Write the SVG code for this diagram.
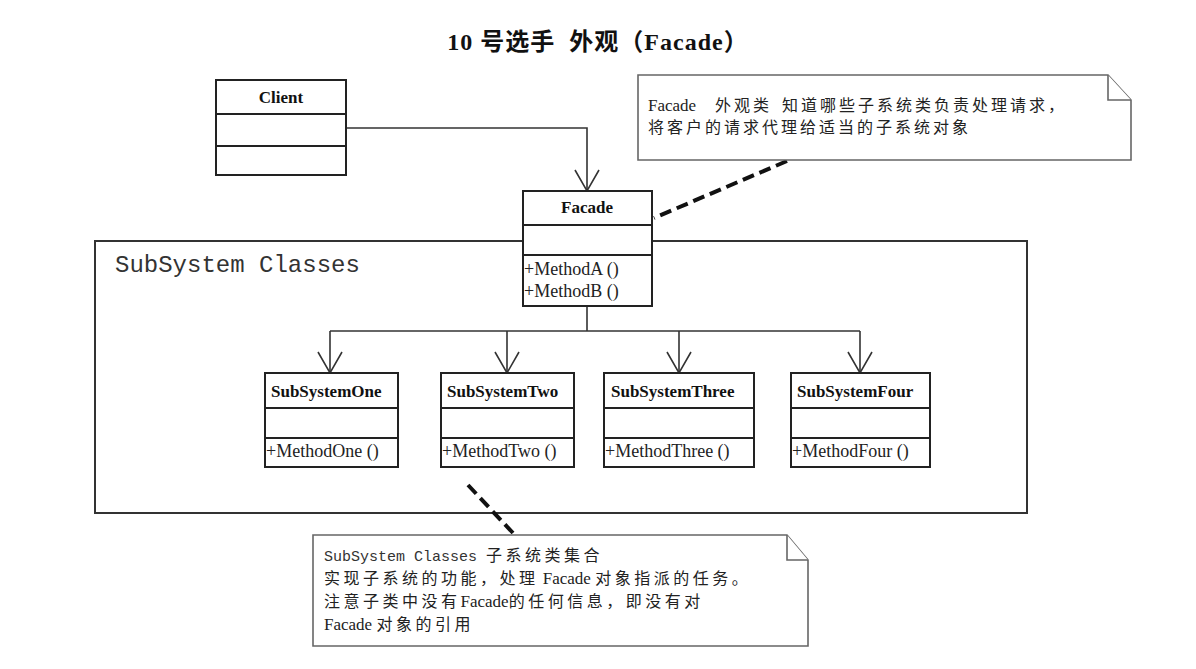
<svg xmlns="http://www.w3.org/2000/svg" width="1196" height="669" viewBox="0 0 1196 669">
<defs>
<style>
.box{fill:#fff;stroke:#222;stroke-width:2}
.div{stroke:#222;stroke-width:1.8}
.frame{fill:none;stroke:#333;stroke-width:2}
.line{fill:none;stroke:#333;stroke-width:1.6}
.dash{fill:none;stroke:#111;stroke-width:4;stroke-dasharray:12 6}
.note{fill:#fff;stroke:#666;stroke-width:1.6}
.name{font-family:"Liberation Serif","Noto Sans CJK SC",serif;font-weight:bold;font-size:17px;fill:#111}
.meth{font-family:"Liberation Serif","Noto Sans CJK SC",serif;font-size:18px;fill:#222}
.mono{font-family:"Liberation Mono","Noto Sans CJK SC",monospace;fill:#333}
.ntxt{font-family:"Liberation Serif","Noto Sans CJK SC",serif;font-size:17px;fill:#222}
.cjk{font-family:"Noto Sans CJK SC",sans-serif;font-size:16px;letter-spacing:3px}
.cjk2{font-family:"Noto Sans CJK SC",sans-serif;font-size:16px;letter-spacing:3.5px}
.title{font-family:"Liberation Serif","Noto Sans CJK SC",serif;font-weight:bold;font-size:24px;letter-spacing:1px;fill:#111;white-space:pre}
</style>
</defs>
<rect width="1196" height="669" fill="#fff"/>
<text class="title" x="598" y="50" text-anchor="middle">10 号选手  外观（Facade）</text>

<g id="subsystem-frame">
<rect class="frame" x="95" y="241" width="932" height="272"/>
<text class="mono" x="115" y="272" font-size="24">SubSystem Classes</text>
</g>

<g id="connectors">
<polyline class="line" points="346,128 587,128 587,191"/>
<polyline class="line" points="575,170 587,191 599,170"/>
<line class="line" x1="587" y1="306" x2="587" y2="331"/>
<line class="line" x1="330" y1="331" x2="860" y2="331"/>
<line class="line" x1="330" y1="331" x2="330" y2="373"/>
<line class="line" x1="507" y1="331" x2="507" y2="373"/>
<line class="line" x1="679" y1="331" x2="679" y2="373"/>
<line class="line" x1="860" y1="331" x2="860" y2="373"/>
<polyline class="line" points="318,352 330,373 342,352"/>
<polyline class="line" points="495,352 507,373 519,352"/>
<polyline class="line" points="667,352 679,373 691,352"/>
<polyline class="line" points="848,352 860,373 872,352"/>
<line class="dash" x1="787" y1="161" x2="654" y2="218"/>
<line class="dash" x1="468" y1="485" x2="513" y2="533"/>
</g>

<g id="client">
<rect class="box" x="216" y="80" width="130" height="95"/>
<line class="div" x1="216" y1="114" x2="346" y2="114"/>
<line class="div" x1="216" y1="146" x2="346" y2="146"/>
<text class="name" x="281" y="103" text-anchor="middle">Client</text>
</g>

<g id="facade">
<rect class="box" x="523" y="191" width="129" height="115"/>
<line class="div" x1="523" y1="225" x2="652" y2="225"/>
<line class="div" x1="523" y1="255" x2="652" y2="255"/>
<text class="name" x="587" y="213" text-anchor="middle">Facade</text>
<text class="meth" x="524" y="275">+MethodA ()</text>
<text class="meth" x="524" y="297">+MethodB ()</text>
</g>

<g id="subsystem-one">
<rect class="box" x="265" y="373" width="133" height="94"/>
<line class="div" x1="265" y1="408" x2="398" y2="408"/>
<line class="div" x1="265" y1="438" x2="398" y2="438"/>
<text class="name" x="271" y="397">SubSystemOne</text>
<text class="meth" x="266" y="457">+MethodOne ()</text>
</g>

<g id="subsystem-two">
<rect class="box" x="441" y="373" width="133" height="94"/>
<line class="div" x1="441" y1="408" x2="574" y2="408"/>
<line class="div" x1="441" y1="438" x2="574" y2="438"/>
<text class="name" x="447" y="397">SubSystemTwo</text>
<text class="meth" x="442" y="457">+MethodTwo ()</text>
</g>

<g id="subsystem-three">
<rect class="box" x="604" y="373" width="150" height="94"/>
<line class="div" x1="604" y1="408" x2="754" y2="408"/>
<line class="div" x1="604" y1="438" x2="754" y2="438"/>
<text class="name" x="611" y="397">SubSystemThree</text>
<text class="meth" x="605" y="457">+MethodThree ()</text>
</g>

<g id="subsystem-four">
<rect class="box" x="791" y="373" width="139" height="94"/>
<line class="div" x1="791" y1="408" x2="930" y2="408"/>
<line class="div" x1="791" y1="438" x2="930" y2="438"/>
<text class="name" x="797" y="397">SubSystemFour</text>
<text class="meth" x="792" y="457">+MethodFour ()</text>
</g>

<g id="note-facade">
<polygon class="note" points="638,75 1108,75 1131,100 1131,160 638,160"/>
<polyline class="note" points="1108,75 1108,100 1131,100"/>
<text class="ntxt" x="648" y="111">Facade<tspan class="cjk" x="715">外观类</tspan><tspan class="cjk" x="782">知道哪些子系统类负责处理请求，</tspan></text>
<text class="ntxt" x="648" y="133"><tspan class="cjk">将客户的请求代理给适当的子系统对象</tspan></text>
</g>

<g id="note-subsystem">
<polygon class="note" points="313,535 787,535 808,560 808,646 313,646"/>
<polyline class="note" points="787,535 787,560 808,560"/>
<text class="ntxt" x="324" y="561"><tspan class="mono" font-size="15">SubSystem Classes </tspan><tspan class="cjk2">子系统类集合</tspan></text>
<text class="ntxt" x="324" y="584"><tspan class="cjk2">实现子系统的功能，处理</tspan> Facade <tspan class="cjk2">对象指派的任务。</tspan></text>
<text class="ntxt" x="324" y="607"><tspan class="cjk2">注意子类中没有</tspan>Facade<tspan class="cjk2">的任何信息，即没有对</tspan></text>
<text class="ntxt" x="324" y="630">Facade <tspan class="cjk2">对象的引用</tspan></text>
</g>
</svg>
